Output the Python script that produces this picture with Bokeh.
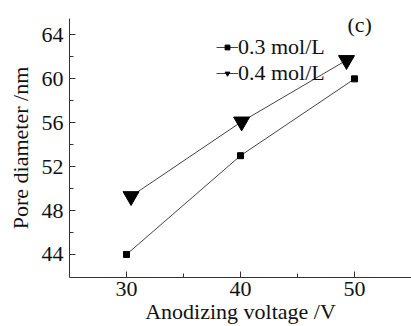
from bokeh.plotting import figure
from bokeh.models import FixedTicker, Legend, LegendItem, Label, Range1d
from bokeh.embed import file_html
from bokeh.resources import INLINE

voltage_03 = [30, 40, 50]
diameter_03 = [44, 53, 60]
voltage_04 = [30.4, 40.1, 49.3]
diameter_04 = [49.3, 56.1, 61.7]
series_labels = ["0.3 mol/L", "0.4 mol/L"]
x_ticks = [30, 40, 50]
x_minor = [35, 45]
y_ticks = [44, 48, 52, 56, 60, 64]
y_minor = [46, 50, 54, 58, 62]

FONT = "Liberation Serif"

p = figure(width=411, height=326, output_backend="svg", toolbar_location=None,
           x_range=Range1d(25, 55), y_range=Range1d(41.9, 65.5),
           min_border_left=69, min_border_right=0, min_border_top=18, min_border_bottom=45)
p.xgrid.visible = False
p.ygrid.visible = False
p.outline_line_color = None
p.background_fill_color = "white"

l1 = p.line(voltage_03, diameter_03, line_color="#444444", line_width=1)
s1 = p.scatter(voltage_03, diameter_03, marker="square", size=6, fill_color="black", line_color="black")
l2 = p.line(voltage_04, diameter_04, line_color="#444444", line_width=1)
s2 = p.scatter(voltage_04, diameter_04, marker="inverted_triangle", size=16, fill_color="black", line_color="black")

for ax in (p.xaxis[0], p.yaxis[0]):
    ax.axis_line_color = "#333333"
    ax.major_tick_line_color = "#333333"
    ax.minor_tick_line_color = "#333333"
    ax.major_tick_in = 6
    ax.major_tick_out = 0
    ax.minor_tick_in = 4
    ax.minor_tick_out = 0
    ax.major_label_text_font = FONT
    ax.major_label_text_font_size = "22px"
    ax.major_label_text_color = "#111111"
    ax.axis_label_text_font = FONT
    ax.axis_label_text_font_size = "22px"
    ax.axis_label_text_font_style = "normal"
    ax.axis_label_text_color = "#111111"

p.xaxis.ticker = FixedTicker(ticks=x_ticks, minor_ticks=x_minor)
p.yaxis.ticker = FixedTicker(ticks=y_ticks, minor_ticks=y_minor)
p.xaxis.axis_label = "Anodizing voltage /V"
p.yaxis.axis_label = "Pore diameter /nm"
p.xaxis.major_label_standoff = 4
p.xaxis.axis_label_standoff = 0
p.yaxis.major_label_standoff = 6
p.yaxis.axis_label_standoff = 6

legend = Legend(items=[LegendItem(label=series_labels[0], renderers=[l1, s1]),
                       LegendItem(label=series_labels[1], renderers=[l2, s2])],
                location=(147, 191), padding=0, spacing=0, margin=0,
                glyph_width=22, glyph_height=12, label_height=22, label_standoff=0,
                label_text_font=FONT, label_text_font_size="22px", label_text_color="#111111",
                background_fill_alpha=0, border_line_color=None)
p.add_layout(legend)

p.add_layout(Label(x=278, y=241, x_units="screen", y_units="screen", text="(c)",
                   text_font=FONT, text_font_size="22px", text_color="#111111"))

open("out.html", "w").write(file_html(p, INLINE))
